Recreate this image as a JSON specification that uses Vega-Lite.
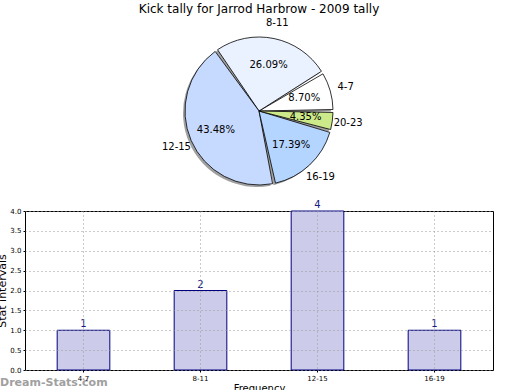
{
  "$schema": "https://vega.github.io/schema/vega-lite/v6.json",
  "autosize": {"type": "pad"},
  "padding": {"left": -4, "top": 2, "right": 0, "bottom": 0},
  "config": {"font": "DejaVu Sans", "view": {"stroke": null}},
  "bounds": "flush",
  "spacing": 18,
  "vconcat": [
    {
      "title": {"text": "Kick tally for Jarrod Harbrow - 2009 tally", "fontSize": 12, "fontWeight": "normal", "offset": 2, "anchor": "middle", "color": "black"},
      "width": 468,
      "height": 164,
      "data": {"values": [
        {"range": "4-7", "count": 2, "pct": "8.70%", "ord": 1},
        {"range": "8-11", "count": 6, "pct": "26.09%", "ord": 2},
        {"range": "12-15", "count": 10, "pct": "43.48%", "ord": 3},
        {"range": "16-19", "count": 4, "pct": "17.39%", "ord": 4},
        {"range": "20-23", "count": 1, "pct": "4.35%", "ord": 5}
      ]},
      "encoding": {
        "theta": {"field": "count", "type": "quantitative", "stack": true, "scale": {"range": [1.5708, -4.7124]}},
        "order": {"field": "ord", "type": "quantitative"},
        "detail": {"field": "range", "type": "nominal"}
      },
      "layer": [
        {"mark": {"type": "arc", "outerRadius": 74, "padAngle": 0.04, "fill": "#777777", "opacity": 0.7, "xOffset": -2, "yOffset": 2}},
        {"mark": {"type": "arc", "outerRadius": 74, "padAngle": 0.04, "stroke": "black", "strokeWidth": 0.8},
         "encoding": {"color": {"field": "range", "type": "nominal",
           "scale": {"domain": ["4-7", "8-11", "12-15", "16-19", "20-23"], "range": ["#ffffff", "#eaf2ff", "#c6d9ff", "#b4d5ff", "#cdea8a"]},
           "legend": null}}},
        {"mark": {"type": "text", "radius": 47, "fontSize": 10, "color": "black"}, "encoding": {"text": {"field": "pct"}}},
        {"mark": {"type": "text", "radius": 90, "fontSize": 10, "color": "black"}, "encoding": {"text": {"field": "range"}}}
      ]
    },
    {
      "width": 468,
      "height": 159,
      "view": {"stroke": "black"},
      "title": {"text": "Dream-Stats.com", "orient": "bottom", "anchor": "start", "frame": "group", "fontSize": 11, "fontWeight": "bold", "color": "#a0a0a0", "dx": -25, "dy": -20},
      "data": {"values": [
        {"range": "4-7", "count": 1},
        {"range": "8-11", "count": 2},
        {"range": "12-15", "count": 4},
        {"range": "16-19", "count": 1}
      ]},
      "encoding": {
        "x": {"field": "range", "type": "nominal", "sort": null, "title": "Frequency",
          "scale": {"paddingInner": 0.55, "paddingOuter": 0.275},
          "axis": {"labelAngle": 0, "labelFontSize": 7, "labelColor": "black", "domain": false, "tickSize": 2, "tickColor": "black", "grid": true, "gridDash": [1, 3], "gridColor": "#999999", "bandPosition": 0.5, "zindex": 1, "titleFontSize": 10, "titleFontWeight": "normal", "titleColor": "black", "titlePadding": 2, "labelPadding": 2}},
        "y": {"field": "count", "type": "quantitative", "title": "Stat intervals",
          "scale": {"domain": [0, 4], "nice": false},
          "axis": {"values": [0, 0.5, 1, 1.5, 2, 2.5, 3, 3.5, 4], "format": ".1f", "labelFontSize": 7, "labelColor": "black", "domain": false, "tickSize": 2, "tickColor": "black", "grid": true, "gridDash": [1, 3], "gridColor": "#999999", "zindex": 1, "titleFontSize": 11, "titleFontWeight": "normal", "titleColor": "black", "titlePadding": 2, "labelPadding": 2}}
      },
      "layer": [
        {"mark": {"type": "bar", "fill": "#ccccea", "stroke": "#000080", "strokeWidth": 1}},
        {"mark": {"type": "text", "baseline": "bottom", "dy": -1, "fontSize": 10, "color": "#1a1a80"}, "encoding": {"text": {"field": "count"}}}
      ]
    }
  ]
}
